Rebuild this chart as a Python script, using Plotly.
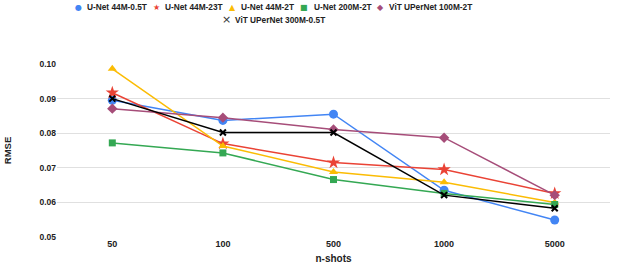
import plotly.graph_objects as go

categories = ["50", "100", "500", "1000", "5000"]
series_names = ["U-Net 44M-0.5T", "U-Net 44M-23T", "U-Net 44M-2T", "U-Net 200M-2T",
                "ViT UPerNet 100M-2T", "ViT UPerNet 300M-0.5T"]
unet_44m_05t = [0.0895, 0.0837, 0.0855, 0.0635, 0.0549]
unet_44m_23t = [0.0917, 0.0770, 0.0715, 0.0695, 0.0626]
unet_44m_2t = [0.0986, 0.0763, 0.0688, 0.0658, 0.0600]
unet_200m_2t = [0.0772, 0.0743, 0.0666, 0.0626, 0.0594]
vit_100m_2t = [0.0871, 0.0845, 0.0811, 0.0787, 0.0621]
vit_300m_05t = [0.0900, 0.0802, 0.0802, 0.0621, 0.0583]

values = [unet_44m_05t, unet_44m_23t, unet_44m_2t, unet_200m_2t, vit_100m_2t, vit_300m_05t]
colors = ["#4285F4", "#EA4335", "#FBBC04", "#34A853", "#A64D79", "#000000"]
symbols = ["circle", "star", "triangle-up", "square", "diamond", "x-thin"]
sizes = [9, 10, 8, 7, 8, 6]
legend_glyphs = ["●", "★", "▲", "■", "◆", "×"]

W, H = 640, 272
ML, MR, MT, MB = 57, 30, 64, 35
PW, PH = W - ML - MR, H - MT - MB

fig = go.Figure()
for name, vals, c, s, sz in zip(series_names, values, colors, symbols, sizes):
    marker = dict(color=c, symbol=s, size=sz)
    if s == "x-thin":
        marker["line"] = dict(color=c, width=2)
    fig.add_trace(go.Scatter(x=categories, y=vals, mode="lines+markers", name=name,
                             line=dict(color=c, width=1.5), marker=marker, showlegend=False))

# Legend drawn as text (symbol glyph + label), laid out like the reference
legend_pos = [(78, 85, 7), (156, 163, 7), (232, 239, 7), (304, 312, 7), (380, 387, 7), (226, 233, 20)]
def px(x):
    return (x - ML) / PW
def py(y):
    return (H - MB - y) / PH

annotations = []
for name, c, g, (sx, tx, yy) in zip(series_names, colors, legend_glyphs, legend_pos):
    gc = "#333" if g == "×" else c
    annotations.append(dict(x=px(sx), y=py(yy), xref="paper", yref="paper", text=g,
                            showarrow=False, xanchor="center", yanchor="middle",
                            font=dict(size=8 if g != "×" else 11, color=gc,
                                      family="DejaVu Sans")))
    annotations.append(dict(x=px(tx), y=py(yy), xref="paper", yref="paper", text=name,
                            showarrow=False, xanchor="left", yanchor="middle",
                            font=dict(size=8.3, color="#222", weight="bold",
                                      family="Arial, Liberation Sans, sans-serif")))

fig.update_layout(
    width=W, height=H,
    margin=dict(l=ML, r=MR, t=MT, b=MB),
    paper_bgcolor="white", plot_bgcolor="white",
    font=dict(family="Arial, Liberation Sans, sans-serif", color="#222"),
    showlegend=False,
    annotations=annotations,
    xaxis=dict(type="category", range=[-0.5, 4.5], showgrid=False, showline=False, ticks="",
               automargin=False,
               tickfont=dict(size=9, color="#222", weight="bold"),
               title=dict(text="n-shots", font=dict(size=10, color="#222", weight="bold"), standoff=6)),
    yaxis=dict(range=[0.05, 0.10], tickvals=[0.05, 0.06, 0.07, 0.08, 0.09, 0.10],
               ticktext=["0.05", "0.06", "0.07", "0.08", "0.09", "0.10"],
               showgrid=True, gridcolor="#e0e0e0", gridwidth=1, zeroline=False, showline=False,
               automargin=False,
               tickfont=dict(size=8.5, color="#222", weight="bold"), ticks="",
               title=dict(text="RMSE", font=dict(size=9.5, color="#222", weight="bold"), standoff=26)),
)

fig.write_html("out.html", config={"displayModeBar": False},
               post_script="document.body.style.margin='0';")
